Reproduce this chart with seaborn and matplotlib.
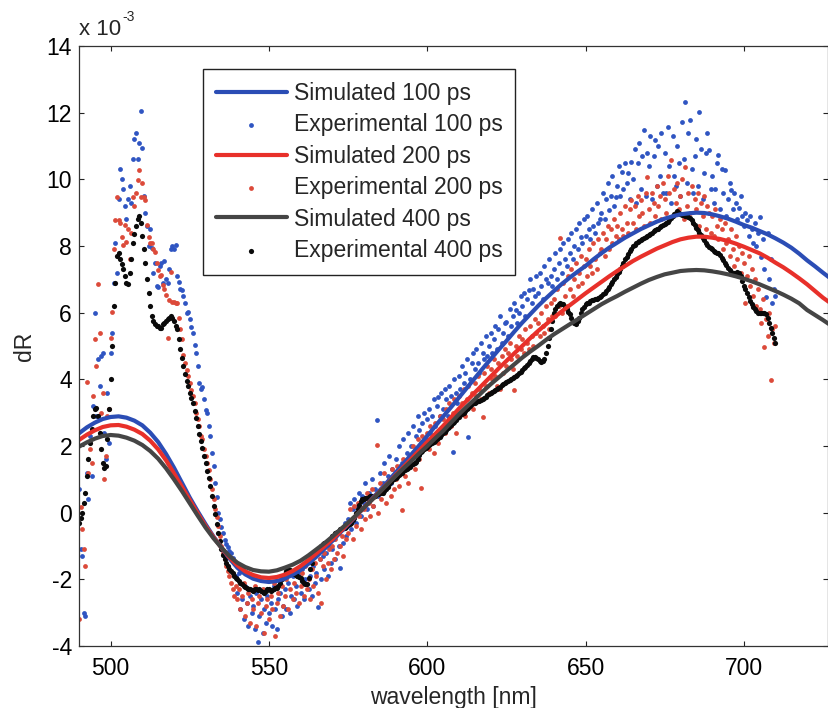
import numpy as np
import matplotlib
matplotlib.use("Agg")
import matplotlib.pyplot as plt
import seaborn as sns

# simulated curves (dR in units of 1e-3), one value every 2.5 nm from 490 to 727.5 nm
SIM_START, SIM_STOP, SIM_STEP = 490.0, 727.5, 2.5
sim_100 = [
    2.38, 2.56, 2.7, 2.81, 2.87, 2.89, 2.85, 2.76,          # 490
    2.62, 2.4, 2.12, 1.76, 1.35, 0.9, 0.45, 0.04,           # 510
    -0.35, -0.72, -1.05, -1.37, -1.65, -1.85, -1.98, -2.05, # 530
    -2.08, -2.05, -1.98, -1.86, -1.72, -1.53, -1.32, -1.09, # 550
    -0.85, -0.6, -0.35, -0.1, 0.15, 0.41, 0.67, 0.93,       # 570
    1.2, 1.47, 1.75, 2.02, 2.3, 2.59, 2.88, 3.16,           # 590
    3.45, 3.74, 4.03, 4.32, 4.6, 4.88, 5.15, 5.43,          # 610
    5.7, 5.95, 6.2, 6.43, 6.65, 6.86, 7.05, 7.23,           # 630
    7.4, 7.6, 7.78, 7.95, 8.1, 8.25, 8.38, 8.51,            # 650
    8.62, 8.73, 8.82, 8.89, 8.95, 8.98, 9.0, 8.99,          # 670
    8.95, 8.89, 8.82, 8.73, 8.63, 8.55, 8.45, 8.35,         # 690
    8.23, 8.1, 7.95, 7.77, 7.57, 7.39, 7.2, 7.02,           # 710
]
sim_200 = [
    2.18, 2.34, 2.47, 2.57, 2.62, 2.63, 2.58, 2.49,
    2.36, 2.16, 1.9, 1.57, 1.18, 0.78, 0.38, -0.02,
    -0.4, -0.74, -1.05, -1.34, -1.58, -1.76, -1.87, -1.94,
    -1.96, -1.93, -1.86, -1.75, -1.6, -1.42, -1.22, -1.01,
    -0.8, -0.57, -0.33, -0.09, 0.15, 0.39, 0.63, 0.87,
    1.12, 1.37, 1.62, 1.87, 2.12, 2.36, 2.6, 2.86,
    3.12, 3.36, 3.6, 3.84, 4.08, 4.32, 4.55, 4.78,
    5.0, 5.23, 5.45, 5.65, 5.85, 6.04, 6.22, 6.4,
    6.58, 6.75, 6.92, 7.09, 7.25, 7.4, 7.55, 7.68,
    7.8, 7.92, 8.02, 8.12, 8.2, 8.25, 8.28, 8.28,
    8.25, 8.21, 8.15, 8.07, 7.98, 7.88, 7.78, 7.65,
    7.5, 7.36, 7.2, 7.03, 6.85, 6.65, 6.45, 6.28,
]
sim_400 = [
    1.98, 2.11, 2.22, 2.3, 2.33, 2.31, 2.25, 2.16,
    2.03, 1.85, 1.62, 1.33, 1.0, 0.65, 0.28, -0.09,
    -0.45, -0.77, -1.05, -1.3, -1.5, -1.63, -1.72, -1.76,
    -1.77, -1.73, -1.65, -1.56, -1.44, -1.28, -1.1, -0.92,
    -0.72, -0.51, -0.3, -0.08, 0.15, 0.38, 0.62, 0.86,
    1.1, 1.33, 1.55, 1.78, 2.0, 2.23, 2.45, 2.7,
    2.95, 3.18, 3.4, 3.63, 3.85, 4.05, 4.25, 4.45,
    4.65, 4.83, 5.0, 5.18, 5.35, 5.5, 5.65, 5.8,
    5.95, 6.1, 6.25, 6.38, 6.5, 6.63, 6.75, 6.87,
    6.98, 7.07, 7.15, 7.2, 7.25, 7.27, 7.28, 7.27,
    7.24, 7.2, 7.15, 7.09, 7.02, 6.94, 6.85, 6.75,
    6.65, 6.54, 6.42, 6.28, 6.08, 5.93, 5.78, 5.62,
]

# measured spectra, one value every 0.5 nm from 490 to 710 nm
EXP_START, EXP_STOP, EXP_STEP = 490.0, 710.0, 0.5

exp_100 = [
    0.7, -1.1, -1.3, -3.0, -3.1, 1.2, 0.4, 2.3, 1.1, 3.2,        # 490
    6.0, 2.9, 4.6, 3.8, 4.7, 4.8, 2.4, 1.6, 3.6, 2.1,            # 495
    4.8, 5.4, 6.9, 8.1, 7.2, 9.4, 10.3, 10.0, 9.7, 9.2,          # 500
    8.8, 9.4, 9.8, 9.3, 10.6, 11.2, 11.4, 10.6, 11.1, 12.05,     # 505
    10.95, 9.5, 9.0, 8.6, 8.0, 8.5, 7.95, 7.2, 7.5, 6.8,         # 510
    6.78, 7.4, 7.5, 6.9, 7.55, 7.0, 6.88, 7.3, 7.9, 8.0,         # 515
    7.9, 8.03, 7.1, 6.93, 6.7, 6.68, 6.5, 6.28, 6.0, 6.03,       # 520
    5.8, 5.58, 5.4, 5.03, 4.8, 4.4, 3.9, 3.7, 3.78, 3.4,         # 525
    3.08, 3.0, 2.6, 2.3, 1.78, 1.4, 0.9, 0.48, -0.02, -0.2,      # 530
    -0.42, -0.6, -0.82, -0.95, -1.02, -1.15, -1.22, -1.35, -1.47, -1.9,  # 535
    -2.4, -1.8, -2.9, -2.6, -3.2, -2.2, -2.7, -3.4, -2.5, -3.0,  # 540
    -2.8, -3.5, -2.4, -3.87, -3.1, -2.6, -3.6, -2.9, -3.3, -2.5, # 545
    -3.0, -2.7, -3.4, -2.2, -2.9, -3.5, -2.6, -2.4, -3.1, -2.8,  # 550
    -2.3, -2.9, -2.1, -3.0, -2.5, -1.9, -2.6, -2.2, -2.8, -1.8,  # 555
    -2.4, -1.7, -2.6, -2.0, -1.5, -2.3, -1.9, -2.5, -1.6, -2.1,  # 560
    -1.8, -2.82, -1.4, -2.0, -1.3, -1.7, -1.2, -1.9, -1.0, -1.5, # 565
    -1.1, -0.8, -1.4, -0.6, -1.0, -1.65, -0.5, -0.9, -0.3, -0.7, # 570
    -0.2, 0.3, -0.5, 0.1, 0.4, -0.3, 0.2, 0.6, -0.1, 0.5,        # 575
    0.3, 0.9, 0.1, 0.6, 0.4, 1.0, 0.2, 0.7, 2.78, 0.5,           # 580
    1.2, 0.6, 0.9, 1.5, 0.8, 1.1, 1.7, 0.9, 1.3, 1.0,            # 585
    1.6, 1.2, 2.0, 1.4, 1.5, 2.2, 1.3, 1.8, 2.4, 1.7,            # 590
    2.0, 2.6, 1.8, 2.3, 2.9, 2.48, 2.1, 2.7, 3.0, 2.2,           # 595
    2.8, 3.1, 2.4, 2.9, 3.4, 2.6, 3.2, 3.48, 2.9, 3.6,           # 600
    3.1, 3.7, 3.4, 2.9, 3.8, 3.5, 1.83, 4.0, 3.6, 3.3,           # 605
    4.1, 3.7, 4.4, 3.9, 4.2, 4.6, 2.28, 4.0, 4.5, 4.8,           # 610
    4.3, 4.9, 4.5, 4.2, 5.1, 4.78, 4.6, 5.3, 4.7, 5.0,           # 615
    5.4, 4.8, 5.2, 5.6, 4.9, 5.5, 5.9, 5.1, 5.4, 5.7,            # 620
    5.73, 5.3, 6.1, 5.6, 5.9, 6.3, 6.08, 5.7, 6.0, 6.5,          # 625
    6.2, 6.6, 5.9, 6.4, 6.68, 7.0, 6.3, 6.7, 6.5, 7.1,           # 630
    6.6, 7.2, 6.8, 6.4, 7.4, 7.0, 6.9, 7.6, 7.1, 6.8,            # 635
    7.3, 7.78, 7.0, 7.5, 7.9, 7.2, 8.1, 7.6, 7.4, 8.2,           # 640
    7.8, 8.4, 7.6, 8.0, 8.5, 7.9, 8.7, 8.28, 8.1, 8.8,           # 645
    8.3, 8.9, 8.5, 8.2, 9.1, 8.6, 8.4, 9.3, 8.68, 8.8,           # 650
    9.0, 9.6, 8.8, 9.4, 9.9, 9.08, 9.5, 10.1, 9.2, 9.48,         # 655
    9.8, 10.4, 9.5, 10.23, 9.7, 10.5, 9.9, 10.2, 9.4, 10.53,     # 660
    10.0, 10.9, 9.3, 10.5, 11.1, 9.7, 10.7, 11.48, 9.5, 10.8,    # 665
    10.4, 11.3, 9.4, 10.7, 11.18, 9.8, 11.0, 10.1, 11.4, 9.6,    # 670
    10.8, 9.6, 11.58, 10.4, 9.3, 11.3, 10.1, 9.8, 11.0, 10.5,    # 675
    9.5, 11.73, 10.6, 12.33, 9.9, 11.4, 11.78, 10.3, 9.6, 10.7,  # 680
    11.2, 9.8, 12.03, 10.9, 9.4, 10.2, 10.8, 11.38, 10.88, 9.7,  # 685
    10.1, 9.3, 9.7, 10.5, 10.73, 9.1, 10.3, 9.6, 10.28, 8.9,     # 690
    9.4, 9.9, 9.68, 9.1, 9.6, 9.3, 8.8, 9.13, 9.5, 8.9,          # 695
    8.6, 9.0, 8.78, 8.3, 8.9, 8.5, 8.1, 8.7, 8.0, 8.4,           # 700
    8.88, 7.68, 8.2, 7.3, 6.48, 8.38, 7.0, 7.6, 6.28, 6.7,       # 705
    6.5,                                                         # 710
]

exp_200 = [
    -3.2, 0.18, -0.5, -1.1, -1.6, 3.93, 1.2, 1.9, 1.5, 3.5,      # 490
    5.2, 4.4, 6.85, 5.4, 3.0, 3.6, 1.0, 1.7, 2.9, 3.1,           # 495
    5.23, 6.03, 7.9, 8.78, 9.48, 8.78, 8.7, 8.28, 8.03, 8.63,    # 500
    8.13, 8.5, 7.6, 8.4, 9.48, 9.2, 9.58, 9.98, 10.28, 9.48,     # 505
    9.9, 9.48, 9.38, 8.63, 8.28, 8.1, 8.08, 7.9, 7.83, 7.48,     # 510
    7.28, 7.1, 7.13, 6.83, 6.7, 6.53, 5.23, 6.38, 7.23, 6.33,    # 515
    6.33, 6.28, 6.3, 5.83, 5.5, 5.2, 4.73, 4.48, 4.28, 4.1,      # 520
    3.88, 3.68, 3.5, 3.3, 3.0, 2.8, 2.6, 2.3, 2.2, 1.9,          # 525
    1.7, 1.5, 1.28, 1.0, 0.7, 0.4, 0.1, -0.12, -0.4, -0.7,       # 530
    -1.0, -1.2, -1.4, -1.6, -1.75, -1.9, -2.1, -2.3, -2.5, -2.2, # 535
    -2.6, -2.3, -2.9, -2.5, -2.1, -3.1, -2.7, -2.4, -3.3, -2.6,  # 540
    -2.9, -2.2, -3.4, -2.7, -2.5, -3.0, -2.3, -3.6, -2.8, -2.6,  # 545
    -3.2, -2.5, -2.9, -2.1, -3.7, -2.7, -2.4, -3.1, -2.2, -2.8,  # 550
    -2.5, -2.0, -2.9, -2.3, -1.8, -2.6, -2.1, -2.4, -1.9, -2.7,  # 555
    -2.2, -1.8, -2.5, -1.6, -2.3, -2.0, -2.6, -1.7, -2.2, -1.5,  # 560
    -1.9, -2.4, -1.4, -2.72, -1.6, -1.2, -2.0, -1.5, -1.1, -1.7, # 565
    -1.0, -1.4, -0.8, -1.2, -0.6, -1.0, -0.7, -1.3, -0.4, -0.8,  # 570
    -0.6, 0.1, -0.3, -0.8, 0.2, -0.4, 0.3, -0.1, -0.5, 0.4,      # 575
    0.1, -0.2, 0.6, 0.3, -0.1, 0.7, 0.2, 0.5, 2.03, 0.0,         # 580
    0.9, 0.4, 0.7, 1.2, 0.3, 0.8, 1.0, 0.5, 1.3, 0.7,            # 585
    1.0, 1.4, 0.8, 1.2, 0.08, 1.6, 1.1, 1.5, 0.9, 1.7,           # 590
    1.5, 2.0, 1.3, 1.8, 2.2, 1.6, 0.73, 2.3, 1.9, 2.1,           # 595
    2.4, 1.9, 2.6, 2.2, 1.8, 2.7, 2.4, 2.1, 2.9, 2.5,            # 600
    2.8, 2.4, 3.1, 2.7, 3.3, 2.6, 3.0, 3.4, 2.4, 2.9,            # 605
    3.5, 3.0, 3.3, 3.7, 2.9, 3.4, 3.8, 3.2, 3.6, 3.1,            # 610
    3.9, 3.5, 4.1, 3.7, 3.4, 2.88, 4.2, 3.8, 4.4, 3.6,           # 615
    4.3, 4.0, 4.6, 4.1, 3.8, 4.5, 3.7, 4.7, 4.2, 4.9,            # 620
    4.4, 4.8, 5.1, 4.6, 4.3, 3.68, 5.0, 4.7, 5.3, 4.9,           # 625
    5.2, 4.8, 5.5, 5.1, 4.9, 5.6, 5.3, 5.0, 5.8, 5.4,            # 630
    5.7, 5.3, 6.0, 5.6, 5.4, 6.2, 5.8, 5.5, 6.3, 5.9,            # 635
    6.4, 5.9, 6.7, 6.2, 8.23, 6.0, 6.9, 6.5, 6.2, 7.1,           # 640
    6.7, 7.3, 6.5, 7.0, 7.5, 6.8, 7.2, 7.7, 6.9, 7.4,            # 645
    7.6, 7.1, 7.9, 7.4, 7.2, 8.1, 7.6, 7.3, 8.2, 7.8,            # 650
    7.9, 8.4, 7.7, 8.2, 8.6, 7.9, 8.5, 8.1, 8.8, 8.3,            # 655
    8.6, 8.2, 9.0, 8.5, 8.3, 9.2, 8.7, 8.4, 9.1, 9.38,           # 660
    8.7, 9.2, 8.5, 9.5, 8.9, 9.38, 9.0, 8.6, 9.6, 10.08,         # 665
    9.1, 8.7, 9.6, 9.3, 8.9, 9.8, 9.2, 9.5, 8.8, 9.9,            # 670
    9.4, 9.0, 10.1, 9.6, 10.58, 8.9, 9.7, 9.3, 9.9, 9.1,         # 675
    9.5, 10.0, 8.8, 10.38, 9.2, 9.6, 9.0, 9.8, 8.7, 9.4,         # 680
    9.1, 9.6, 8.6, 9.3, 8.9, 9.5, 8.5, 9.2, 9.0, 8.4,            # 685
    8.9, 8.3, 9.1, 8.6, 8.2, 8.8, 8.5, 7.9, 8.7, 8.1,            # 690
    8.2, 7.7, 8.5, 7.9, 7.4, 8.3, 7.6, 8.0, 7.2, 7.8,            # 695
    7.5, 6.28, 7.1, 7.7, 6.8, 7.3, 6.5, 7.0, 6.2, 6.7,           # 700
    6.1, 5.68, 6.4, 4.98, 5.8, 5.3, 6.0, 3.98, 5.5, 5.1,         # 705
    5.6,                                                         # 710
]

exp_400 = [
    -0.3, -0.15, 0.0, 0.3, 0.6, 1.1, 1.6, 2.1, 2.5, 2.9,         # 490
    3.1, 3.15, 2.9, 2.4, 1.9, 1.5, 1.35, 1.4, 2.2, 3.1,          # 495
    4.0, 5.0, 6.2, 6.9, 7.7, 7.8, 7.6, 7.45, 7.3, 7.1,           # 500
    6.9, 6.85, 7.2, 7.6, 8.1, 8.35, 8.6, 8.8, 8.9, 8.7,          # 505
    8.3, 7.9, 7.5, 7.0, 6.6, 6.2, 5.9, 5.75, 5.65, 5.6,          # 510
    5.6, 5.55, 5.55, 5.65, 5.7, 5.75, 5.8, 5.85, 5.9, 5.85,      # 515
    5.75, 5.6, 5.5, 5.2, 4.9, 4.65, 4.4, 4.15, 3.95, 3.8,        # 520
    3.6, 3.45, 3.3, 3.05, 2.85, 2.6, 2.35, 2.15, 1.95, 1.7,      # 525
    1.5, 1.25, 1.05, 0.8, 0.5, 0.2, -0.05, -0.35, -0.6, -0.85,   # 530
    -1.1, -1.28, -1.4, -1.5, -1.6, -1.68, -1.75, -1.82, -1.9, -1.95,  # 535
    -2.0, -2.05, -2.1, -2.15, -2.2, -2.22, -2.25, -2.3, -2.3, -2.33,  # 540
    -2.35, -2.3, -2.28, -2.32, -2.3, -2.35, -2.38, -2.4, -2.35, -2.3, # 545
    -2.3, -2.35, -2.33, -2.28, -2.25, -2.25, -2.2, -2.1, -2.0, -1.92, # 550
    -1.85, -1.75, -1.7, -1.72, -1.75, -1.8, -1.85, -1.88, -1.9, -1.92, # 555
    -1.95, -2.05, -2.1, -2.15, -2.15, -1.95, -1.7, -1.5, -1.3, -1.2,  # 560
    -1.15, -1.1, -1.05, -1.0, -0.95, -0.92, -0.9, -0.88, -0.85, -0.78, # 565
    -0.7, -0.66, -0.62, -0.58, -0.55, -0.5, -0.48, -0.46, -0.45, -0.42, # 570
    -0.38, -0.34, -0.3, -0.22, -0.15, -0.02, 0.1, 0.22, 0.35, 0.4,    # 575
    0.42, 0.44, 0.45, 0.48, 0.5, 0.49, 0.48, 0.5, 0.55, 0.57,    # 580
    0.58, 0.59, 0.6, 0.66, 0.72, 0.78, 0.85, 0.92, 0.98, 1.02,   # 585
    1.05, 1.08, 1.12, 1.16, 1.2, 1.24, 1.28, 1.32, 1.35, 1.38,   # 590
    1.42, 1.45, 1.48, 1.52, 1.6, 1.72, 1.82, 1.86, 1.9, 1.94,    # 595
    1.98, 2.02, 2.05, 2.08, 2.12, 2.16, 2.2, 2.24, 2.28, 2.33,   # 600
    2.38, 2.43, 2.48, 2.53, 2.58, 2.63, 2.68, 2.73, 2.78, 2.83,  # 605
    2.88, 2.92, 2.95, 3.0, 3.05, 3.1, 3.15, 3.2, 3.25, 3.28,     # 610
    3.3, 3.32, 3.35, 3.36, 3.38, 3.42, 3.45, 3.48, 3.52, 3.56,   # 615
    3.6, 3.63, 3.66, 3.68, 3.7, 3.74, 3.78, 3.82, 3.85, 3.88,    # 620
    3.92, 3.95, 3.98, 4.02, 4.05, 4.08, 4.1, 4.14, 4.18, 4.23,   # 625
    4.28, 4.33, 4.38, 4.44, 4.5, 4.56, 4.62, 4.66, 4.68, 4.64,   # 630
    4.6, 4.55, 4.52, 4.55, 4.6, 4.8, 5.0, 5.25, 5.5, 5.75,       # 635
    6.0, 6.1, 6.2, 6.25, 6.28, 6.27, 6.25, 6.18, 6.1, 6.02,      # 640
    5.95, 5.85, 5.75, 5.7, 5.65, 5.75, 5.85, 5.98, 6.1, 6.18,    # 645
    6.25, 6.28, 6.3, 6.34, 6.38, 6.39, 6.4, 6.42, 6.45, 6.48,    # 650
    6.5, 6.55, 6.6, 6.66, 6.72, 6.78, 6.85, 6.92, 7.0, 7.08,     # 655
    7.15, 7.22, 7.3, 7.4, 7.5, 7.6, 7.68, 7.76, 7.85, 7.92,      # 660
    8.0, 8.04, 8.08, 8.12, 8.15, 8.18, 8.2, 8.24, 8.28, 8.3,     # 665
    8.32, 8.36, 8.4, 8.44, 8.48, 8.5, 8.52, 8.56, 8.6, 8.62,     # 670
    8.65, 8.68, 8.72, 8.78, 8.85, 8.9, 8.95, 9.0, 9.05, 9.0,     # 675
    8.95, 8.93, 8.92, 8.91, 8.9, 8.88, 8.85, 8.78, 8.7, 8.62,    # 680
    8.55, 8.48, 8.4, 8.32, 8.25, 8.18, 8.1, 8.04, 7.98, 7.94,    # 685
    7.9, 7.86, 7.82, 7.8, 7.78, 7.72, 7.65, 7.58, 7.5, 7.42,     # 690
    7.35, 7.28, 7.22, 7.2, 7.18, 7.2, 7.22, 7.18, 7.1, 6.95,     # 695
    6.8, 6.7, 6.6, 6.48, 6.35, 6.26, 6.18, 6.1, 6.05, 6.0,       # 700
    5.98, 5.99, 6.0, 5.98, 5.95, 5.85, 5.7, 5.55, 5.4, 5.25,     # 705
    5.1,                                                         # 710
]

labels = ["Simulated 100 ps", "Experimental 100 ps", "Simulated 200 ps",
          "Experimental 200 ps", "Simulated 400 ps", "Experimental 400 ps"]
BLUE, BLUE_PT = "#2b4db5", "#2f55c2"
RED, RED_PT = "#e8302a", "#dc4a3a"
GREY, BLACK = "#454545", "#0a0a0a"

sim_wl = np.arange(SIM_START, SIM_STOP + SIM_STEP / 2, SIM_STEP)
exp_wl = np.arange(EXP_START, EXP_STOP + EXP_STEP / 2, EXP_STEP)
for name, arr, grid in [("sim_100", sim_100, sim_wl), ("sim_200", sim_200, sim_wl),
                        ("sim_400", sim_400, sim_wl), ("exp_100", exp_100, exp_wl),
                        ("exp_200", exp_200, exp_wl), ("exp_400", exp_400, exp_wl)]:
    if len(arr) != len(grid):
        raise ValueError(f"{name}: {len(arr)} values, expected {len(grid)}")

sns.set_style("ticks")
plt.rcParams["font.family"] = ["Liberation Sans", "DejaVu Sans"]
plt.rcParams["axes.unicode_minus"] = False
plt.rcParams["xtick.direction"] = "in"
plt.rcParams["ytick.direction"] = "in"

W, H = 829, 708
fig = plt.figure(figsize=(W / 100, H / 100), dpi=100)
ax = fig.add_axes([79 / W, 62 / H, 749 / W, 600 / H])

# same drawing order as the legend: later series sit on top
sns.lineplot(x=sim_wl, y=sim_100, color=BLUE, lw=3.0, ax=ax, label=labels[0])
sns.scatterplot(x=exp_wl, y=exp_100, color=BLUE_PT, s=12, linewidth=0, ax=ax, label=labels[1])
sns.lineplot(x=sim_wl, y=sim_200, color=RED, lw=3.0, ax=ax, label=labels[2])
sns.scatterplot(x=exp_wl, y=exp_200, color=RED_PT, s=12, linewidth=0, ax=ax, label=labels[3])
sns.lineplot(x=sim_wl, y=sim_400, color=GREY, lw=3.0, ax=ax, label=labels[4])
sns.scatterplot(x=exp_wl, y=exp_400, color=BLACK, s=14, linewidth=0, ax=ax, label=labels[5])

ax.set_xlim(490, 726.6)
ax.set_ylim(-4, 14)
ax.set_xticks([500, 550, 600, 650, 700])
ax.set_yticks(list(range(-4, 15, 2)))
ax.tick_params(axis="both", labelsize=16.5, length=3.6, width=0.8, top=True, right=True,
               colors="#222222", labelcolor="black")
ax.tick_params(axis="x", pad=8)
ax.tick_params(axis="y", pad=5)
for sp in ax.spines.values():
    sp.set_color("#333333")
    sp.set_linewidth(0.9)

ax.set_xlabel("wavelength [nm]", fontsize=16.5)
ax.set_ylabel("dR", fontsize=16.5)
ax.xaxis.set_label_coords(0.5, -0.066)
ax.yaxis.set_label_coords(-0.058, 0.5)

fig.text(79 / W, 1 - 35 / H, "x 10", fontsize=16, va="baseline", ha="left")
fig.text(122 / W, 1 - 21 / H, "-3", fontsize=10, va="baseline", ha="left")

leg = ax.legend(loc="upper left", bbox_to_anchor=(124 / 749, 577 / 600), borderaxespad=0,
                fontsize=16.5, handlelength=3.13, handletextpad=0.29, labelspacing=0.37,
                borderpad=0.55, frameon=True, fancybox=False, edgecolor="#222222",
                framealpha=1, scatterpoints=1)
leg.get_frame().set_linewidth(1.0)

fig.savefig("out.png", dpi=100)
